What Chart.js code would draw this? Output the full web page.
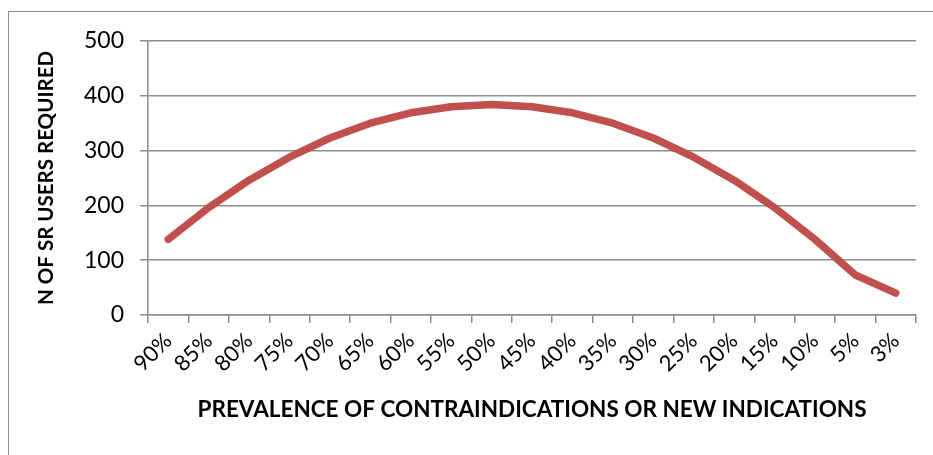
<!DOCTYPE html>
<html>
<head>
<meta charset="utf-8">
<script src="https://cdn.jsdelivr.net/npm/chart.js@4"></script>
<style>
  html, body { margin: 0; padding: 0; background: #fff; }
  #wrap { position: relative; width: 933px; height: 455px; overflow: hidden; }
  #frame { position: absolute; left: 8px; top: 11px; width: 1000px; height: 1000px; border: 1px solid #8c8c8c; }
  canvas { position: absolute; left: 0; top: 0; }
</style>
</head>
<body>
<div id="wrap">
  <div id="frame"></div>
  <canvas id="chart" width="933" height="455"></canvas>
</div>
<script>
const categories = ['90%', '85%', '80%', '75%', '70%', '65%', '60%', '55%', '50%', '45%',
                    '40%', '35%', '30%', '25%', '20%', '15%', '10%', '5%', '3%'];
const usersRequired = [138, 196, 246, 288, 323, 350, 369, 380, 384, 380,
                       369, 350, 323, 288, 246, 196, 138, 73, 40];
const yTicks = [0, 100, 200, 300, 400, 500];

const fontFamily = 'Lato, "Open Sans", sans-serif';
const gridColor = '#8c8c8c';

new Chart(document.getElementById('chart'), {
    type: 'line',
    data: {
        labels: categories,
        datasets: [{
            data: usersRequired,
            borderColor: '#c0504d',
            borderWidth: 7.5,
            pointRadius: 0,
            tension: 0,
            borderCapStyle: 'round',
            borderJoinStyle: 'round'
        }]
    },
    options: {
        responsive: false,
        animation: false,
        layout: { padding: { left: 34, right: 17, top: 41, bottom: 32 } },
        plugins: { legend: { display: false }, tooltip: { enabled: false } },
        scales: {
            x: {
                offset: true,
                afterFit: (scale) => { scale.height = 108; },
                grid: { offset: true, drawOnChartArea: false, drawTicks: true, tickLength: 8, color: gridColor, lineWidth: 1.5 },
                border: { color: gridColor, width: 1.5 },
                ticks: { color: '#000', font: { family: fontFamily, size: 22 }, minRotation: 45, maxRotation: 45, autoSkip: false, padding: 5 },
                title: { display: true, text: 'PREVALENCE OF CONTRAINDICATIONS OR NEW INDICATIONS', color: '#000', font: { family: fontFamily, size: 22.5, weight: 'bold' }, padding: { top: 10, bottom: 0 } }
            },
            y: {
                min: 0,
                max: 500,
                afterBuildTicks: (scale) => { scale.ticks = yTicks.map(v => ({ value: v })); },
                afterFit: (scale) => { scale.width = 114; },
                grid: { color: gridColor, lineWidth: 1.5, tickLength: 8 },
                border: { color: gridColor, width: 1.5 },
                ticks: { color: '#000', font: { family: fontFamily, size: 23 }, padding: 16 },
                title: { display: true, text: 'N OF SR USERS REQUIRED', color: '#000', font: { family: fontFamily, size: 20.5, weight: 'bold' }, padding: 0 }
            }
        }
    }
});
</script>
</body>
</html>
